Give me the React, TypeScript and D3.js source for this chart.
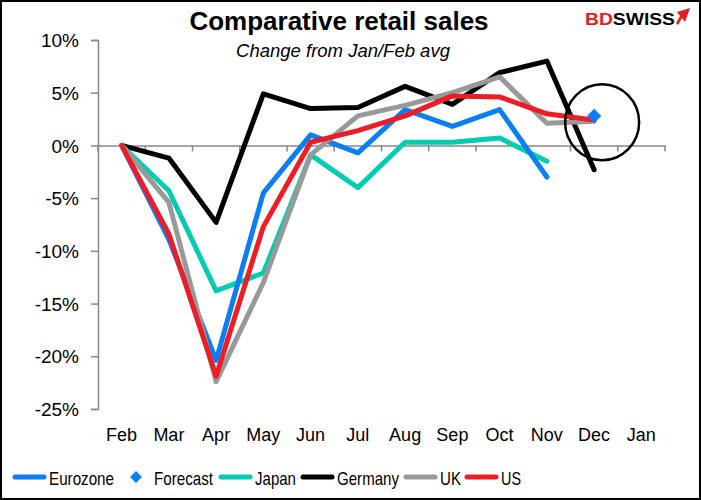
import React, { useEffect, useRef } from 'react';
import * as d3 from 'd3';

const months = ['Feb', 'Mar', 'Apr', 'May', 'Jun', 'Jul', 'Aug', 'Sep', 'Oct', 'Nov', 'Dec', 'Jan'];
const yTicks = [10, 5, 0, -5, -10, -15, -20, -25];

const eurozone = [0, -8.9, -20.4, -4.5, 1.0, -0.7, 3.4, 1.8, 3.4, -3.0];
const forecast = [{ month: 'Dec', value: 2.8 }];
const japan = [0, -4.3, -13.8, -12.1, -0.9, -4.0, 0.3, 0.3, 0.7, -1.5];
const germany = [0, -1.2, -7.3, 4.9, 3.5, 3.6, 5.6, 3.9, 6.9, 8.0, -2.3];
const uk = [0, -5.4, -22.4, -13.0, -0.9, 2.8, 3.8, 5.0, 6.5, 2.1, 2.3];
const us = [0, -8.4, -21.9, -7.7, 0.3, 1.4, 2.8, 4.7, 4.6, 3.0, 2.4];

const seriesList = [
  { name: 'Germany', values: germany, color: '#000000' },
  { name: 'Japan', values: japan, color: '#00CCB0' },
  { name: 'Eurozone', values: eurozone, color: '#0A7EF5' },
  { name: 'UK', values: uk, color: '#999999' },
  { name: 'US', values: us, color: '#EE1C25' },
];

const legendItems = ['Eurozone', 'Forecast', 'Japan', 'Germany', 'UK', 'US'];
const legendColors: Record<string, string> = {
  Eurozone: '#0A7EF5', Forecast: '#0A7EF5', Japan: '#00CCB0', Germany: '#000000', UK: '#999999', US: '#EE1C25',
};

const App = () => {
  const svgRef = useRef<SVGSVGElement | null>(null);

  useEffect(() => {
    document.body.style.margin = '0';
    if (!svgRef.current) return;
    const svg = d3.select(svgRef.current);
    svg.selectAll('*').remove();

    const width = 701;
    const height = 500;
    const margin = { top: 40, right: 36, bottom: 91, left: 98 };
    const font = '"Liberation Sans", Arial, sans-serif';

    svg.append('rect')
      .attr('x', 1).attr('y', 1)
      .attr('width', width - 2).attr('height', height - 2)
      .attr('fill', '#fff').attr('stroke', '#000').attr('stroke-width', 2);

    const x = d3.scaleBand().domain(months).range([margin.left, width - margin.right]);
    const y = d3.scaleLinear().domain([-25, 10]).range([height - margin.bottom, margin.top]);
    const cx = (m: string) => (x(m) as number) + x.bandwidth() / 2;

    const g = svg.append('g');

    // y axis
    const yAxis = g.append('g')
      .attr('transform', `translate(${margin.left},0)`)
      .call(d3.axisLeft(y).tickValues(yTicks).tickSize(7).tickFormat(d => `${d}%`) as any);
    yAxis.select('.domain').attr('stroke', '#888').attr('stroke-width', 1.5);
    yAxis.selectAll('line').attr('stroke', '#888').attr('stroke-width', 1.5);
    yAxis.selectAll('text')
      .attr('font-family', font).attr('font-size', 19).attr('fill', '#000').attr('x', -19).attr('dy', '0.35em');

    // x axis on zero line
    const xAxis = g.append('g')
      .attr('transform', `translate(0,${y(0)})`)
      .call(d3.axisBottom(x).tickValues([]).tickSizeOuter(0) as any);
    xAxis.select('.domain').attr('stroke', '#888').attr('stroke-width', 1.5);
    const bounds = months.map(m => x(m) as number).concat([width - margin.right]);
    xAxis.selectAll('.tb').data(bounds).enter().append('line')
      .attr('x1', d => d).attr('x2', d => d).attr('y1', 0).attr('y2', 6)
      .attr('stroke', '#888').attr('stroke-width', 1.5);

    g.selectAll('.xl').data(months).enter().append('text')
      .attr('x', d => cx(d)).attr('y', 441)
      .attr('text-anchor', 'middle')
      .attr('font-family', font).attr('font-size', 18)
      .text(d => d);

    const line = d3.line<number>()
      .x((_, i) => cx(months[i]))
      .y(d => y(d));

    seriesList.forEach(s => {
      g.append('path')
        .attr('d', line(s.values))
        .attr('fill', 'none')
        .attr('stroke', s.color)
        .attr('stroke-width', 5)
        .attr('stroke-linejoin', 'round')
        .attr('stroke-linecap', 'round');
    });

    // forecast diamond
    forecast.forEach(f => {
      g.append('path')
        .attr('d', d3.symbol().type(d3.symbolDiamond2).size(130)())
        .attr('transform', `translate(${cx(f.month)},${y(f.value)})`)
        .attr('fill', '#0A7EF5');
    });

    // annotation circle around December
    g.append('ellipse')
      .attr('cx', cx('Dec') + 8).attr('cy', y(2.2))
      .attr('rx', 37).attr('ry', 38)
      .attr('fill', 'none').attr('stroke', '#000').attr('stroke-width', 2.5);

    // title
    svg.append('text')
      .attr('x', 339).attr('y', 30)
      .attr('text-anchor', 'middle')
      .attr('font-family', font).attr('font-weight', 'bold').attr('font-size', 26)
      .text('Comparative retail sales');
    svg.append('text')
      .attr('x', 343).attr('y', 57)
      .attr('text-anchor', 'middle')
      .attr('font-family', font).attr('font-style', 'italic').attr('font-size', 18.5)
      .text('Change from Jan/Feb avg');

    // logo
    const logo = svg.append('text')
      .attr('x', 585).attr('y', 25)
      .attr('font-family', font).attr('font-weight', 'bold').attr('font-size', 17)
      .attr('textLength', 90).attr('lengthAdjust', 'spacingAndGlyphs');
    logo.append('tspan').attr('fill', '#E31E24').text('BD');
    logo.append('tspan').attr('fill', '#000').text('SWISS');
    svg.append('path')
      .attr('d', 'M677,12 L690,8 L685,22 L682,18 L678,25 L676,23 L680,16 Z')
      .attr('fill', '#E31E24');

    // legend
    const legendX = [13, 132, 219, 301, 404, 465];
    const legendW = [65, 59, 41, 62, 21, 20];
    const legY = 477;
    legendItems.forEach((name, i) => {
      const lx = legendX[i];
      const tx = name === 'Forecast' ? lx + 22 : lx + 36;
      if (name === 'Forecast') {
        svg.append('path')
          .attr('d', d3.symbol().type(d3.symbolDiamond2).size(90)())
          .attr('transform', `translate(${lx + 4},${legY})`)
          .attr('fill', legendColors[name]);
      } else {
        svg.append('line')
          .attr('x1', lx + 2).attr('x2', lx + 31)
          .attr('y1', legY).attr('y2', legY)
          .attr('stroke', legendColors[name]).attr('stroke-width', 5).attr('stroke-linecap', 'round');
      }
      svg.append('text')
        .attr('x', tx).attr('y', legY + 8)
        .attr('font-family', font).attr('font-size', 19)
        .attr('textLength', legendW[i]).attr('lengthAdjust', 'spacingAndGlyphs')
        .text(name);
    });
  }, []);

  return <svg ref={svgRef} width={701} height={500} style={{ display: 'block' }}></svg>;
};

export default App;
